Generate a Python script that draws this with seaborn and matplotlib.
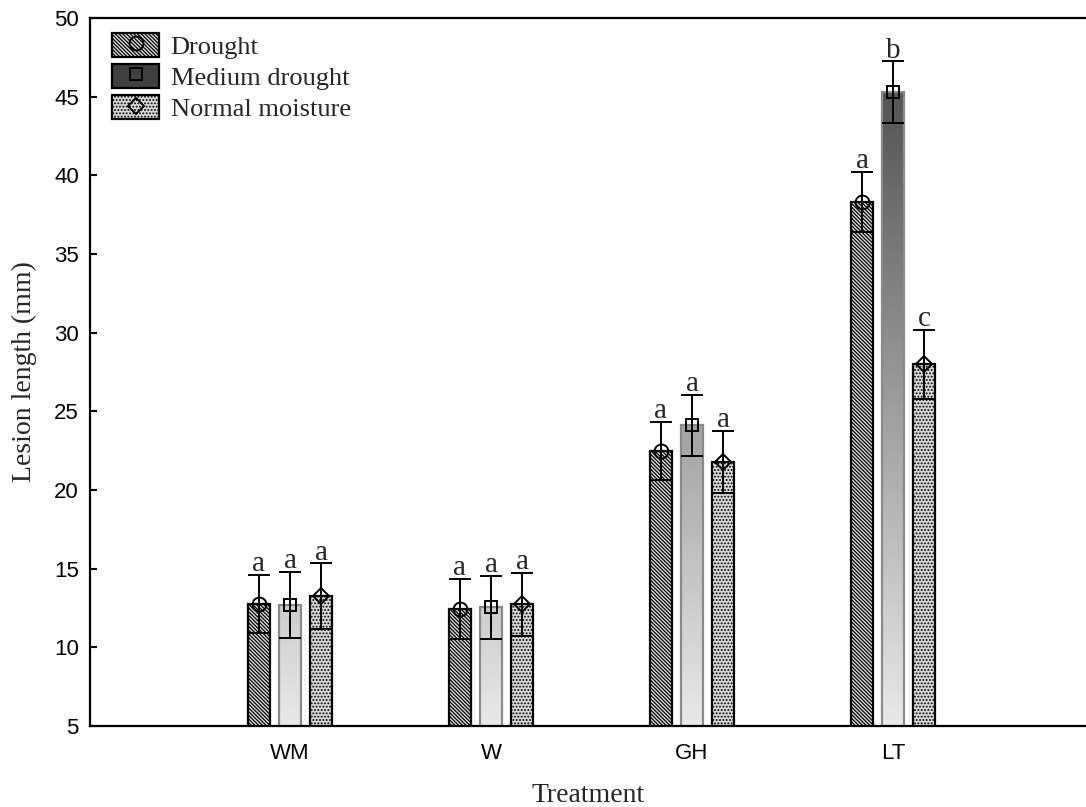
import numpy as np
import pandas as pd
import matplotlib
matplotlib.use("Agg")
import matplotlib.pyplot as plt
import seaborn as sns
from matplotlib.patches import Patch
from matplotlib.lines import Line2D
from matplotlib.colors import LinearSegmentedColormap
from matplotlib.container import BarContainer

# ---------------- data ----------------
treatments = ["WM", "W", "GH", "LT"]
moisture = ["Drought", "Medium drought", "Normal moisture"]

drought_mean = [12.75, 12.45, 22.5, 38.3]
drought_err = [1.85, 1.9, 1.85, 1.93]
medium_mean = [12.7, 12.55, 24.1, 45.3]
medium_err = [2.1, 2.0, 1.95, 1.95]
normal_mean = [13.25, 12.75, 21.8, 28.0]
normal_err = [2.1, 2.0, 1.97, 2.2]

drought_letters = ["a", "a", "a", "a"]
medium_letters = ["a", "a", "a", "b"]
normal_letters = ["a", "a", "a", "c"]

means = [drought_mean, medium_mean, normal_mean]
errs = [drought_err, medium_err, normal_err]
letters = [drought_letters, medium_letters, normal_letters]

rows = []
for m, vals in zip(moisture, means):
    for t, v in zip(treatments, vals):
        rows.append({"Treatment": t, "Moisture": m, "Length": v})
df = pd.DataFrame(rows)

# ---------------- style ----------------
sns.set_style("white")
plt.rcParams["font.family"] = ["Liberation Sans", "DejaVu Sans"]
plt.rcParams["hatch.linewidth"] = 0.9
SERIF = ["Liberation Serif", "DejaVu Serif"]

HATCH_D = "\\" * 9
HATCH_N = "." * 5
FACE_D = "#e0e0e0"
FACE_N = "#dadada"

fig = plt.figure(figsize=(10.86, 8.07), dpi=100)
ax = fig.add_axes([90 / 1086, 81 / 807, 996 / 1086, 708 / 807])

sns.barplot(data=df, x="Treatment", y="Length", hue="Moisture",
            order=treatments, hue_order=moisture, width=0.463, gap=0.29,
            errorbar=None, legend=False, ax=ax,
            palette=["#d0d0d0", "#a0a0a0", "#d8d8d8"])

ax.set_ylim(5, 50)

grad_cmap = LinearSegmentedColormap.from_list("g", ["#e9e9e9", "#555555"])
markers = ["o", "s", "D"]
msizes = [10, 8, 8]

bar_containers = [c for c in ax.containers if isinstance(c, BarContainer)]
for hi, cont in enumerate(bar_containers):
    bars = sorted(cont.patches, key=lambda p: p.get_x())
    for ti, bar in enumerate(bars):
        x0 = bar.get_x()
        w = bar.get_width()
        top = bar.get_height()
        xc = x0 + w / 2
        if hi == 0:
            bar.set_facecolor(FACE_D)
            bar.set_hatch(HATCH_D)
            bar.set_edgecolor("black")
            bar.set_linewidth(1.6)
        elif hi == 2:
            bar.set_facecolor(FACE_N)
            bar.set_hatch(HATCH_N)
            bar.set_edgecolor("black")
            bar.set_linewidth(1.6)
        else:
            bar.set_facecolor("none")
            bar.set_edgecolor("#8a8a8a")
            bar.set_linewidth(1.6)
            grad = np.linspace(5, top, 200).reshape(-1, 1)
            im = ax.imshow(grad, extent=(x0, x0 + w, 5, top), origin="lower",
                           cmap=grad_cmap, vmin=5, vmax=45, aspect="auto",
                           zorder=bar.get_zorder() - 0.1, interpolation="bilinear")
            im.set_clip_path(bar)
        e = errs[hi][ti]
        ax.plot([xc], [top], marker=markers[hi], ms=msizes[hi], mfc="none",
                mec="black", mew=1.4, zorder=5, ls="none")
        ax.errorbar([xc], [top], yerr=[e], fmt="none", ecolor="black",
                    elinewidth=1.4, capsize=8, capthick=1.4, zorder=6)
        ax.text(xc, top + e - 0.15, letters[hi][ti], ha="center", va="bottom",
                family=SERIF, fontsize=21, zorder=7)

ax.set_xlim(-0.995, 3.96)
ax.set_ylim(5, 50)
ax.set_yticks(np.arange(5, 51, 5))

for s in ["left", "bottom", "top"]:
    ax.spines[s].set_visible(True)
    ax.spines[s].set_color("black")
    ax.spines[s].set_linewidth(1.6)
ax.spines["right"].set_visible(False)

ax.tick_params(axis="both", direction="in", length=5, width=1.5,
               labelsize=16, colors="black")
ax.tick_params(axis="y", pad=8, left=True)
ax.tick_params(axis="x", pad=12, bottom=True)

ax.set_xlabel("Treatment", family=SERIF, fontsize=20, labelpad=14)
ax.set_ylabel("Lesion length (mm)", family=SERIF, fontsize=20, labelpad=12)

# legend
h_d = (Patch(facecolor=FACE_D, edgecolor="black", hatch=HATCH_D, lw=1.6),
       Line2D([], [], marker="o", ms=10, mfc="none", mec="black", mew=1.4, ls="none"))
h_m = (Patch(facecolor="#404040", edgecolor="black", lw=1.6),
       Line2D([], [], marker="s", ms=8, mfc="none", mec="black", mew=1.4, ls="none"))
h_n = (Patch(facecolor=FACE_N, edgecolor="black", hatch=HATCH_N, lw=1.6),
       Line2D([], [], marker="D", ms=8, mfc="none", mec="black", mew=1.4, ls="none"))
ax.legend([h_d, h_m, h_n], moisture, loc="upper left", frameon=False,
          prop={"family": SERIF, "size": 19}, handlelength=1.75, handleheight=1.0,
          labelspacing=0.2, handletextpad=0.45, borderaxespad=0.3,
          bbox_to_anchor=(0.004, 1.005))

fig.savefig("out.png", dpi=100)
